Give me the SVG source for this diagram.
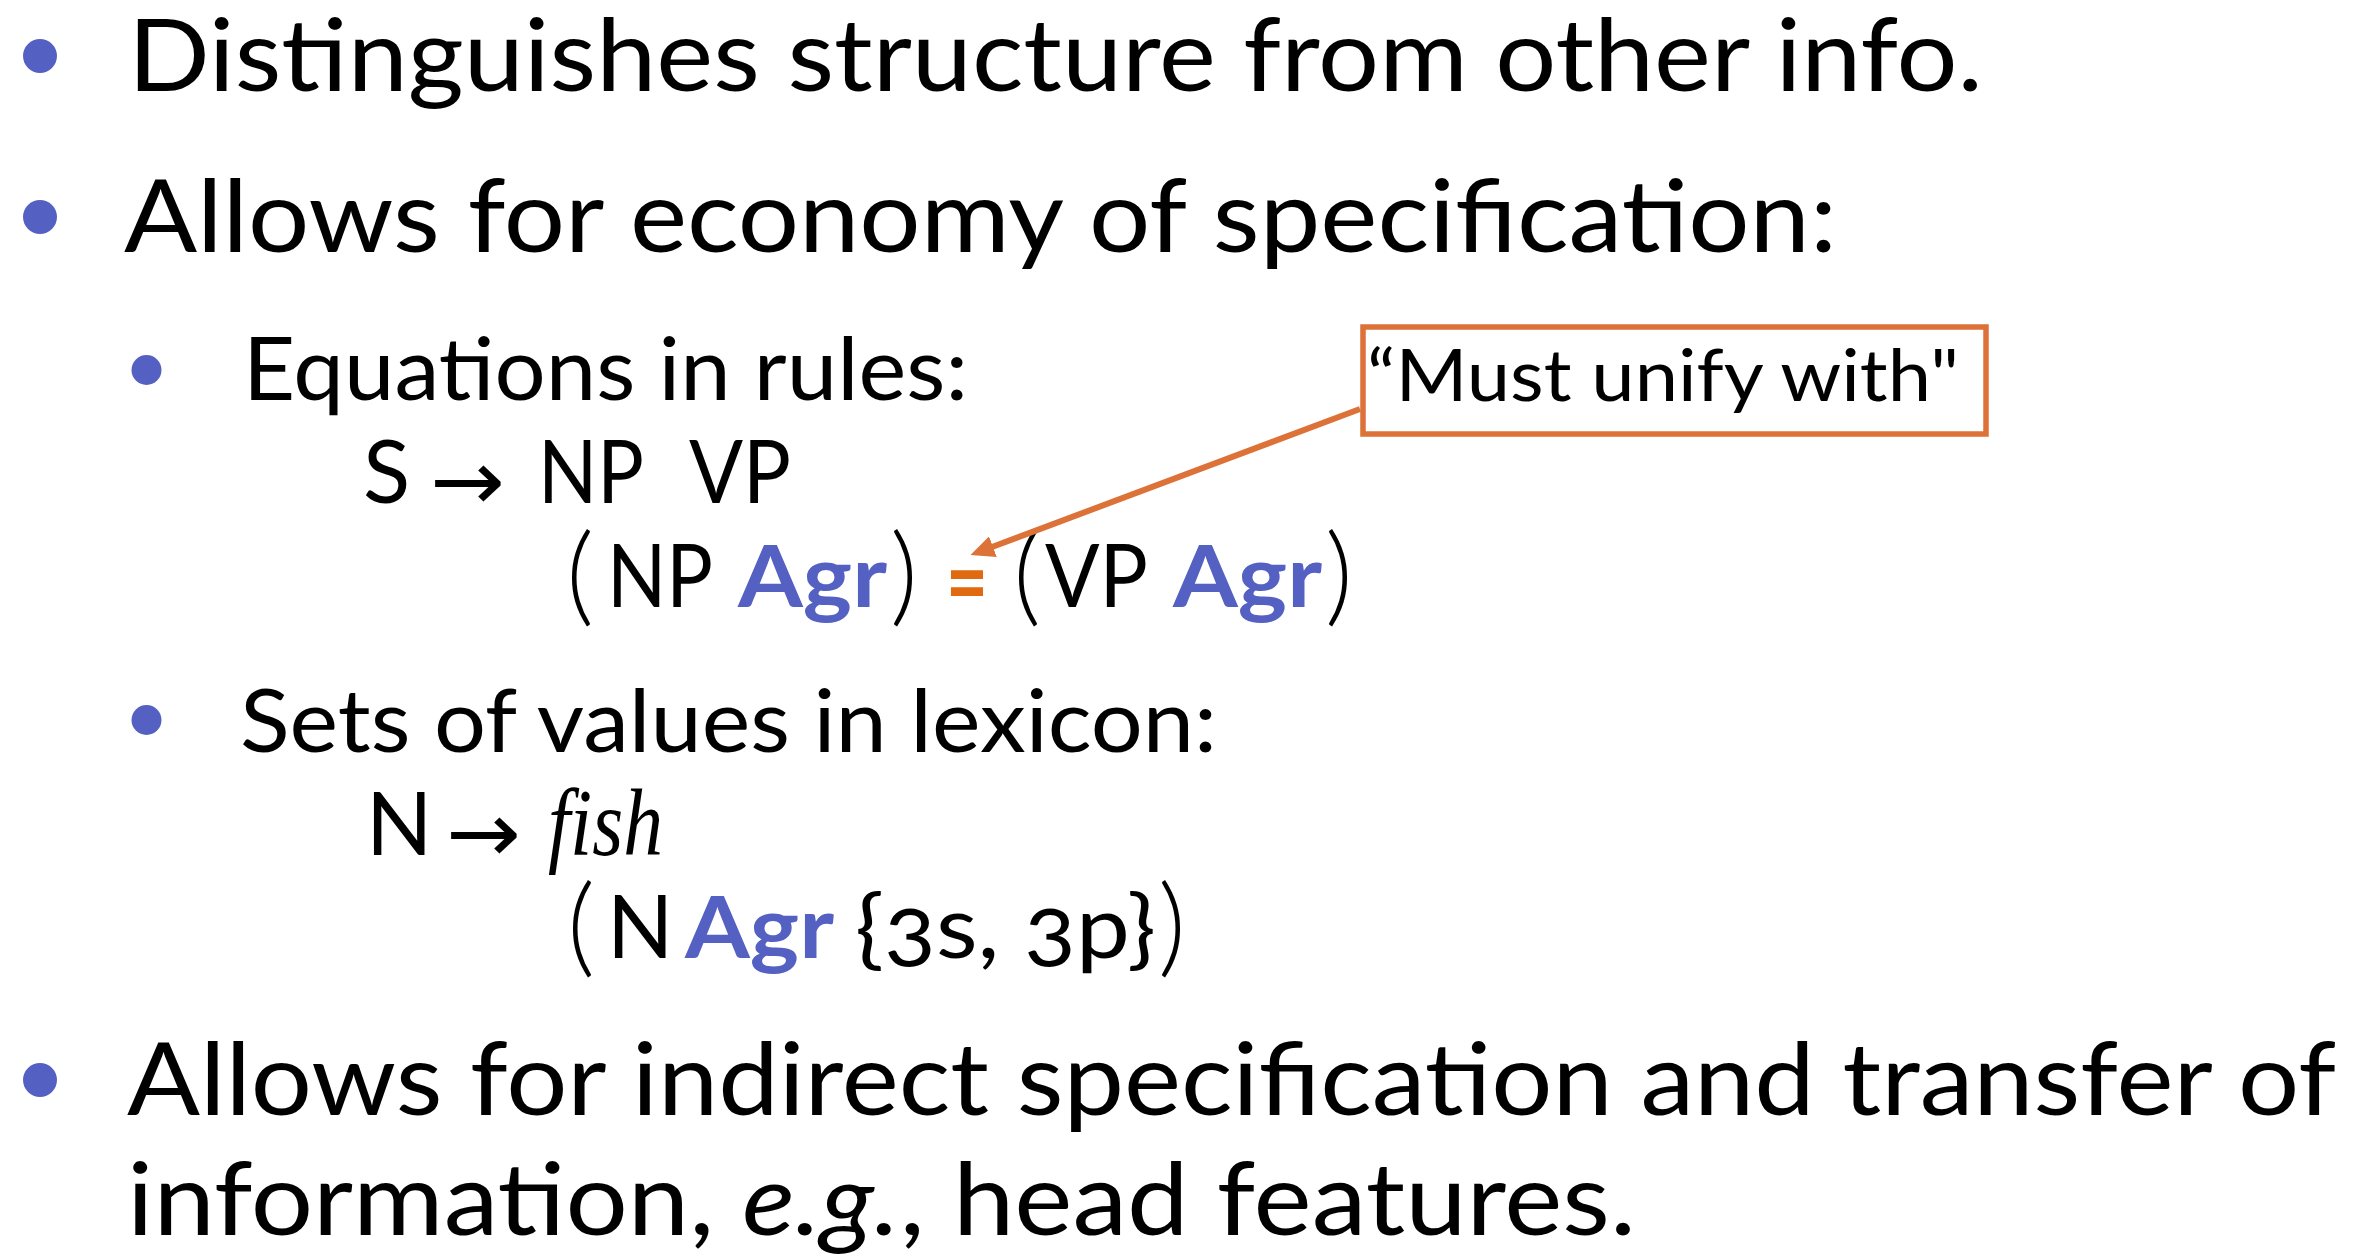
<svg xmlns="http://www.w3.org/2000/svg" width="2368" height="1257" viewBox="0 0 2368 1257">
<style>
.t{font-family:Lato,"Open Sans",sans-serif;fill:#000}
.l1{font-size:100px}
.l2{font-size:87px}
.par{font-family:Lato,"Open Sans",sans-serif;font-weight:300;fill:#000;font-size:108px}
.agr{font-family:Lato,"Open Sans",sans-serif;font-weight:bold;fill:#5561C2;font-size:87px}
.dot{fill:#5561C2}
.arr{font-family:"DejaVu Sans",sans-serif;font-size:84px;fill:#000}
.it{font-family:"Liberation Serif",serif;font-style:italic}
.eq{font-family:Lato,"Open Sans",sans-serif;font-weight:bold;font-size:96px;fill:#E06A10}
.conn{stroke:#DD7238;stroke-width:6;fill:none}
.box{fill:#fff;stroke:#DD7238;stroke-width:5.5}
.onum{font-variant-numeric:oldstyle-nums}
</style>
<defs>
<marker id="ah" markerUnits="userSpaceOnUse" viewBox="0 0 24 22" markerWidth="24" markerHeight="22" refX="1" refY="11" orient="auto">
<path d="M0,0 L24,11 L0,22 z" fill="#DD7238"/>
</marker>
</defs>
<rect width="2368" height="1257" fill="#fff"/>

<g id="bullet1">
<circle class="dot" cx="40" cy="56" r="17"/>
<text class="t l1" x="128" y="91" textLength="1855" lengthAdjust="spacingAndGlyphs">Distinguishes structure from other info.</text>
</g>

<g id="bullet2">
<circle class="dot" cx="40" cy="217" r="17"/>
<text class="t l1" x="124" y="252" textLength="1713" lengthAdjust="spacingAndGlyphs">Allows for economy of specification:</text>
</g>

<g id="sub1">
<circle class="dot" cx="146.5" cy="370" r="15"/>
<text class="t l2" x="243" y="400" textLength="725" lengthAdjust="spacingAndGlyphs">Equations in rules:</text>
</g>

<g id="rule1">
<text class="t l2" x="363" y="503">S</text>
<text class="arr" x="430" y="510" textLength="75" lengthAdjust="spacingAndGlyphs">→</text>
<text class="t l2" x="538" y="503" textLength="106" lengthAdjust="spacingAndGlyphs">NP</text>
<text class="t l2" x="689" y="503" textLength="102" lengthAdjust="spacingAndGlyphs">VP</text>
</g>

<g id="equation">
<text class="par" x="566" y="612" textLength="28" lengthAdjust="spacingAndGlyphs">(</text>
<text class="t l2" x="607" y="607" textLength="106" lengthAdjust="spacingAndGlyphs">NP</text>
<text class="agr" x="738" y="607" textLength="149" lengthAdjust="spacingAndGlyphs">Agr</text>
<text class="par" x="890" y="612" textLength="28" lengthAdjust="spacingAndGlyphs">)</text>
<text class="eq" x="946" y="615" textLength="42" lengthAdjust="spacingAndGlyphs">=</text>
<text class="par" x="1013" y="612" textLength="28" lengthAdjust="spacingAndGlyphs">(</text>
<text class="t l2" x="1045" y="607" textLength="103" lengthAdjust="spacingAndGlyphs">VP</text>
<text class="agr" x="1173" y="607" textLength="149" lengthAdjust="spacingAndGlyphs">Agr</text>
<text class="par" x="1325" y="612" textLength="28" lengthAdjust="spacingAndGlyphs">)</text>
</g>

<g id="sub2">
<circle class="dot" cx="146.5" cy="720" r="15"/>
<text class="t l2" x="240" y="752" textLength="977" lengthAdjust="spacingAndGlyphs">Sets of values in lexicon:</text>
</g>

<g id="rule2">
<text class="t l2" x="366" y="855">N</text>
<text class="arr" x="446" y="862" textLength="75" lengthAdjust="spacingAndGlyphs">→</text>
<text class="it" x="548" y="855" font-size="96" textLength="115" lengthAdjust="spacingAndGlyphs">fish</text>
</g>

<g id="lexentry">
<text class="par" x="567" y="963" textLength="28" lengthAdjust="spacingAndGlyphs">(</text>
<text class="t l2" x="607" y="958">N</text>
<text class="agr" x="685" y="958" textLength="149" lengthAdjust="spacingAndGlyphs">Agr</text>
<text class="t l2 onum" x="855" y="958" textLength="301" lengthAdjust="spacingAndGlyphs">{3s, 3p}</text>
<text class="par" x="1158" y="963" textLength="28" lengthAdjust="spacingAndGlyphs">)</text>
</g>

<g id="bullet3">
<circle class="dot" cx="40" cy="1080" r="17"/>
<text class="t l1" x="127" y="1115" textLength="2209" lengthAdjust="spacingAndGlyphs">Allows for indirect specification and transfer of</text>
<text class="t l1" x="127" y="1235" textLength="1509" lengthAdjust="spacingAndGlyphs">information, <tspan font-style="italic">e.g.</tspan>, head features.</text>
</g>

<g id="callout">
<rect class="box" x="1363" y="327" width="623" height="107"/>
<text class="t" x="1367" y="401" font-size="71" textLength="592" lengthAdjust="spacingAndGlyphs">“Must unify with"</text>
</g>

<g id="connectors">
<line class="conn" x1="1360" y1="409" x2="992" y2="547" marker-end="url(#ah)"/>
</g>
</svg>
